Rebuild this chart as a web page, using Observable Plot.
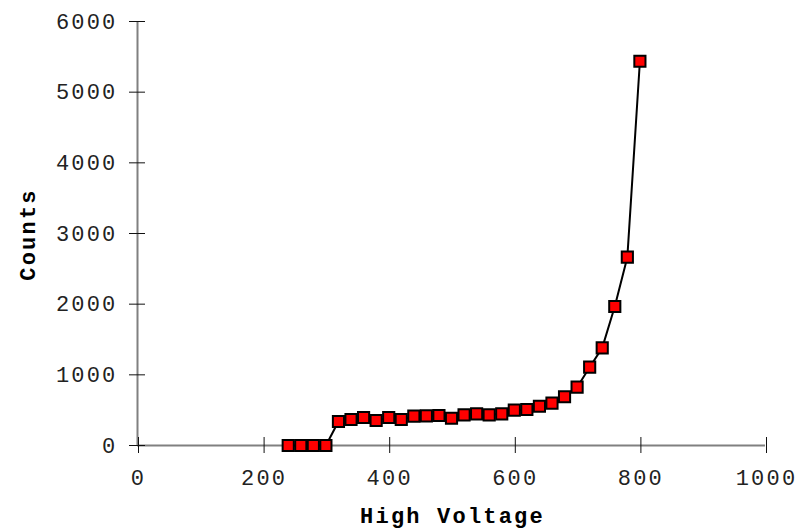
<!DOCTYPE html>
<html>
<head>
<meta charset="utf-8">
<script src="https://cdn.jsdelivr.net/npm/d3@7"></script>
<script src="https://cdn.jsdelivr.net/npm/@observablehq/plot@0.6"></script>
<style>
  html, body { margin: 0; padding: 0; background: white; }
  #chart svg { display: block; }
  #chart svg text { letter-spacing: 2.2px; }
</style>
</head>
<body>
<div id="chart"></div>
<script>
const voltage = [240, 260, 280, 300, 320, 340, 360, 380, 400, 420, 440, 460, 480, 500, 520, 540, 560, 580, 600, 620, 640, 660, 680, 700, 720, 740, 760, 780, 800];
const counts  = [0, 0, 0, 0, 340, 368, 396, 354, 396, 368, 415, 420, 424, 386, 434, 448, 434, 448, 500, 509, 556, 599, 690, 825, 1108, 1382, 1967, 2665, 5438];
const xTicks = [0, 200, 400, 600, 800, 1000];
const yTicks = [0, 1000, 2000, 3000, 4000, 5000, 6000];
const xLabel = "High Voltage";
const yLabel = "Counts";

const data = voltage.map((v, i) => ({voltage: v, counts: counts[i]}));

const font = "'Liberation Mono', 'DejaVu Sans Mono', monospace";
const fmt = d => String(d);

const chart = Plot.plot({
  width: 797,
  height: 530,
  marginLeft: 137,
  marginRight: 32,
  marginTop: 21,
  marginBottom: 85,
  style: {fontFamily: font, fontSize: "22px", background: "white", color: "#222"},
  x: {domain: [0, 1000]},
  y: {domain: [0, 6000]},
  marks: [
    Plot.ruleY([0], {stroke: "#808080", strokeWidth: 2}),
    Plot.ruleX([0], {stroke: "#808080", strokeWidth: 2}),
    Plot.axisX(xTicks, {tickSize: 16, dy: -8, tickPadding: 16, dx: 1, fontSize: 22, fontFamily: font, stroke: "#111", tickFormat: fmt, label: null}),
    Plot.axisY(yTicks, {tickSize: 16, dx: 8, tickPadding: 12, fontSize: 22, fontFamily: font, stroke: "#111", tickFormat: fmt, label: null}),
    Plot.line(data, {x: "voltage", y: "counts", stroke: "black", strokeWidth: 2}),
    Plot.dot(data, {x: "voltage", y: "counts", symbol: "square", r: 6.3, fill: "#ff0000", stroke: "black", strokeWidth: 2}),
    Plot.text([xLabel], {frameAnchor: "bottom", dy: 70, dx: 1, text: d => d, textAnchor: "middle", fontSize: 22, fontWeight: "bold", fontFamily: font, fill: "black", lineAnchor: "middle"}),
    Plot.text([yLabel], {frameAnchor: "left", dx: -110, dy: 1, rotate: -90, text: d => d, textAnchor: "middle", fontSize: 22, fontWeight: "bold", fontFamily: font, fill: "black"})
  ]
});
document.getElementById("chart").appendChild(chart);
</script>
</body>
</html>
